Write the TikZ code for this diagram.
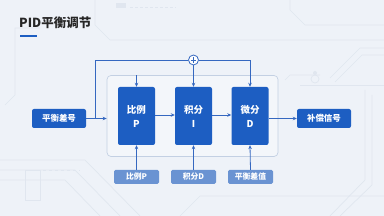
\documentclass[tikz,border=0pt]{standalone}
\usepackage{fontspec}
\setmainfont{Noto Sans CJK SC}
\usetikzlibrary{arrows.meta}
\definecolor{bg}{HTML}{EEF2F8}
\definecolor{deco}{HTML}{E0E6EF}
\definecolor{mainblue}{HTML}{1D5EC2}
\definecolor{lightblue}{HTML}{6A93D2}
\definecolor{linec}{HTML}{3568C0}
\definecolor{frame}{HTML}{C3D0E3}
\tikzset{
  x=1pt,y=-1pt,
  mainbox/.style={draw=none,fill=mainblue,rounded corners=2pt,minimum width=37pt,minimum height=58pt,text=white,font=\bfseries\fontsize{9.5}{14}\selectfont,align=center,inner sep=0pt},
  sidebox/.style={draw=none,fill=mainblue,rounded corners=2pt,minimum width=54pt,minimum height=19pt,text=white,font=\bfseries\fontsize{8.5}{10}\selectfont,inner sep=0pt},
  subbox/.style={draw=none,fill=lightblue,rounded corners=1.5pt,minimum width=45pt,minimum height=14pt,text=white,font=\bfseries\fontsize{7.8}{9}\selectfont,inner sep=0pt},
  conn/.style={draw=linec,line width=0.8pt,-{Stealth[length=4pt,width=3.5pt]}},
  plain/.style={draw=linec,line width=0.8pt},
  decol/.style={draw=deco,line width=0.7pt}
}
\begin{document}
\begin{tikzpicture}
\fill[bg] (0,0) rectangle (384,216);
\useasboundingbox (0,0) rectangle (384,216);
% faint background decoration
\draw[decol] (95,0) -- (95,25) -- (110,40) -- (384,40);
\draw[decol] (40,28) -- (15,28) -- (15,95) -- (5,105);
\draw[decol] (290,0) -- (290,10) -- (305,25) -- (384,25);
\draw[decol] (300,85) -- (384,85);
\draw[decol] (320,75) -- (290,75) -- (285,80);
\draw[decol] (330,78) -- (360,48) -- (384,48);
\draw[decol] (335,82) -- (362,55) -- (384,55);
\fill[deco] (315,73) circle (2pt);
\draw[decol] (315,79) circle (4pt);
\draw[decol] (372,95) -- (372,185) -- (340,216);
\draw[decol] (365,90) -- (365,180) -- (330,216);
\draw[decol] (0,160) -- (85,160) -- (140,216);
\draw[decol] (0,170) -- (75,170) -- (120,216);
\draw[decol] (0,180) -- (65,180) -- (100,216);
\draw[decol] (25,170) rectangle (40,200);
\draw[decol] (180,216) -- (200,196) -- (384,196);
\draw[decol,dashed] (25,170) -- (80,170);
\fill[deco] (116,3) rectangle (126,8);
\draw[decol,dash pattern=on 3pt off 2pt] (130,7) -- (176,7);
% title
\node[anchor=west,font=\bfseries\fontsize{12.5}{14}\selectfont,text=black!85,inner sep=0pt] (title) at (19,23) {PID平衡调节};
\fill[mainblue] (20,35) rectangle (37,37.5);
% container
\node[draw=frame,fill=white,fill opacity=0.35,rounded corners=4pt,line width=0.7pt,minimum width=171pt,minimum height=81pt,inner sep=0pt] (cont) at (192.5,116) {};
% main blocks
\node[mainbox] (P) at (136.5,116) {比例\\P};
\node[mainbox] (I) at (193.5,116) {积分\\I};
\node[mainbox] (D) at (250,116) {微分\\D};
\node[sidebox] (in) at (59,118.5) {平衡差号};
\node[sidebox] (out) at (324,118.5) {补偿信号};
\node[subbox] (sP) at (136.5,177) {比例P};
\node[subbox] (sI) at (193.5,177) {积分D};
\node[subbox] (sD) at (250.5,177) {平衡差值};
% sum circle
\node[draw=linec,fill=white,circle,line width=0.8pt,minimum size=10pt,inner sep=0pt] (sum) at (193.5,60) {};
\draw[linec,line width=0.7pt] ([xshift=-2.8pt]sum.center) -- ([xshift=2.8pt]sum.center) ([yshift=-2.8pt]sum.center) -- ([yshift=2.8pt]sum.center);
% connectors
\coordinate (lc) at (95,118.5);
\coordinate (tl) at (95,60);
\coordinate (tr) at (250,60);
\draw[conn] (in.east) -- (cont.west |- in.east);
\draw[plain] (lc) -- (tl) -- (sum.west);
\draw[conn] (sum.east) -- (tr) -- (D.north);
\draw[conn] (sum.south) -- (I.north);
\draw[conn] (P.north |- cont.north) -- (P.north);
\draw[conn] ([yshift=1pt]P.east) -- ([yshift=1pt]I.west);
\draw[conn] ([yshift=1pt]I.east) -- ([yshift=1pt]D.west);
\draw[conn] (D.east |- out.west) -- (out.west);
\draw[conn] (sP.north) -- (P.south);
\draw[conn] (sI.north) -- (I.south);
\draw[conn] (sD.north) -- (D.south);
\end{tikzpicture}
\end{document}
